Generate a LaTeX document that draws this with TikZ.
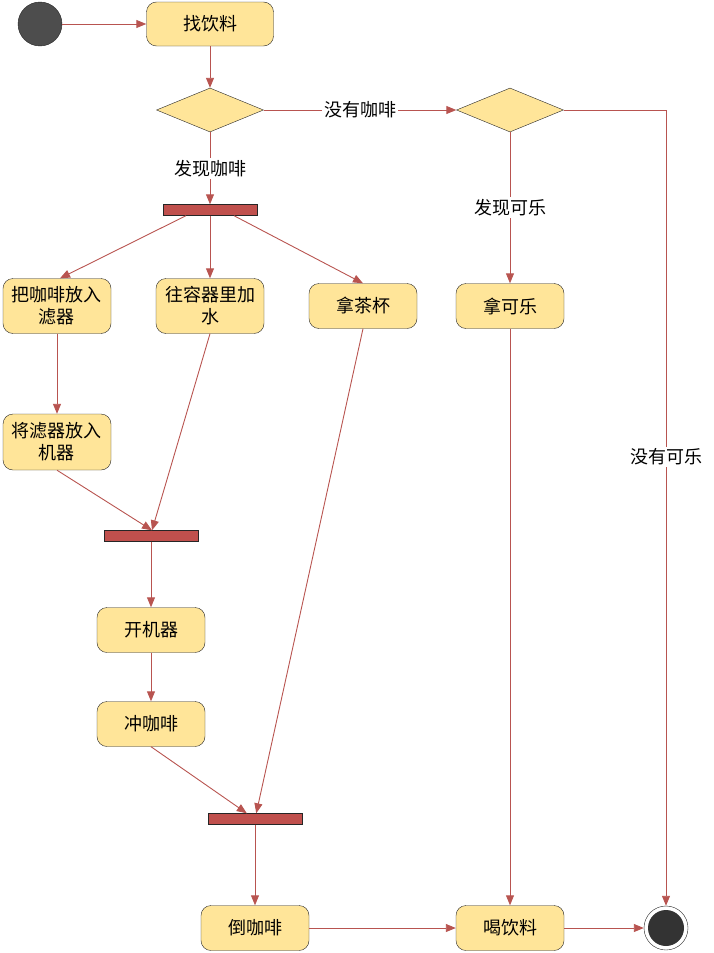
\documentclass[tikz,border=0pt]{standalone}
\usepackage{fontspec}
\newfontfamily\cjk{Noto Sans CJK SC}
\usetikzlibrary{shapes.geometric,arrows.meta}
\definecolor{linec}{RGB}{184,84,80}
\definecolor{boxfill}{RGB}{255,229,153}
\definecolor{barfill}{RGB}{192,80,77}
\definecolor{startfill}{RGB}{77,77,77}
\tikzset{
  act/.style={draw=black!85, fill=boxfill, rounded corners=10pt, minimum width=108pt, minimum height=45pt, align=center, font=\cjk\fontsize{18}{22}\selectfont, inner sep=2pt},
  dec/.style={draw=black!85, fill=boxfill, diamond, aspect=2.4, minimum width=107pt, minimum height=44pt, inner sep=0pt},
  bar/.style={draw=black!85, fill=barfill, minimum width=94pt, minimum height=11pt, inner sep=0pt},
  conn/.style={draw=linec, line width=0.9pt, -{Triangle[length=10pt,width=8pt]}},
  lbl/.style={fill=white, font=\cjk\fontsize{18}{22}\selectfont, inner sep=2pt}
}
\begin{document}
\begin{tikzpicture}[x=1pt,y=-1pt]
\useasboundingbox (0,0) rectangle (714,953);
\node[circle, draw=black!85, fill=startfill, minimum size=44pt, inner sep=0pt] (start) at (40,24) {};
\node[act, minimum width=127pt, minimum height=44pt] (find) at (210,24) {找饮料};
\node[dec] (d1) at (210,110) {};
\node[dec] (d2) at (510,110) {};
\node[bar] (f1) at (210,210) {};
\node[act, minimum height=55pt] (b1) at (57,306) {把咖啡放入\\滤器};
\node[act, minimum height=55pt] (b2) at (210,306) {往容器里加\\水};
\node[act] (b3) at (363,306) {拿茶杯};
\node[act] (cola) at (510,306) {拿可乐};
\node[act, minimum height=56pt] (b4) at (57,442) {将滤器放入\\机器};
\node[bar] (f2) at (151,536) {};
\node[act] (on) at (151,630) {开机器};
\node[act] (brew) at (151,724) {冲咖啡};
\node[bar] (f3) at (255,819) {};
\node[act] (pour) at (255,928) {倒咖啡};
\node[act] (drink) at (510,928) {喝饮料};
\node[circle, draw=black!85, fill=white, minimum size=44pt, inner sep=0pt] (end) at (666,928) {};
\fill[black!80] (end.center) circle (18pt);
\coordinate (c1) at (666,110);
\coordinate (f1l) at ([xshift=-24pt]f1.south);
\coordinate (f1r) at ([xshift=24pt]f1.south);
\coordinate (f2t) at ([xshift=1pt]f2.north);

\draw[conn] (start) -- (find);
\draw[conn] (find) -- (d1);
\draw[conn] (d1) -- node[lbl, pos=0.5] (l1) {发现咖啡} (f1);
\draw[conn] (d1) -- node[lbl, pos=0.5] (l2) {没有咖啡} (d2);
\draw[conn] (d2) -- node[lbl, pos=0.5] (l3) {发现可乐} (cola);
\draw[conn] (d2.east) -- (c1) -- node[lbl, pos=0.436] (l4) {没有可乐} (end);
\draw[conn] (f1l) -- ([xshift=3pt]b1.north);
\draw[conn] (f1) -- (b2);
\draw[conn] (f1r) -- (b3.north);
\draw[conn] (b1) -- (b4);
\draw[conn] (b4.south) -- (f2t);
\draw[conn] (b2.south) -- (f2t);
\draw[conn] (f2) -- (on);
\draw[conn] (on) -- (brew);
\draw[conn] (brew.south) -- (f3);
\draw[conn] (b3.south) -- (f3);
\draw[conn] (f3) -- (pour);
\draw[conn] (cola) -- (drink);
\draw[conn] (pour) -- (drink);
\draw[conn] (drink) -- (end);
\end{tikzpicture}
\end{document}
